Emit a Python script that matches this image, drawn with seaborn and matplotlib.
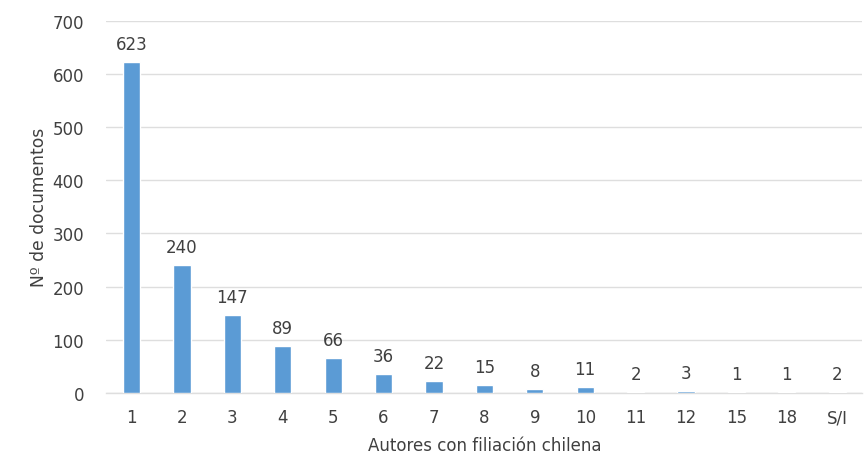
import matplotlib
matplotlib.use("Agg")
import matplotlib.pyplot as plt
import seaborn as sns
import pandas as pd

categorias = ["1", "2", "3", "4", "5", "6", "7", "8", "9", "10", "11", "12", "15", "18", "S/I"]
documentos = [623, 240, 147, 89, 66, 36, 22, 15, 8, 11, 2, 3, 1, 1, 2]
y_ticks = [0, 100, 200, 300, 400, 500, 600, 700]

df = pd.DataFrame({"autores": categorias, "docs": documentos})

sns.set_theme(style="white")
plt.rcParams["font.family"] = ["DejaVu Sans"]

texto = "#404040"
grid = "#DEDEDE"
azul = "#5B9BD5"

fig = plt.figure(figsize=(8.65, 4.64), dpi=100)
ax = fig.add_axes([0.123, 0.151, 0.874, 0.802])

sns.barplot(data=df, x="autores", y="docs", color=azul, width=0.34,
            saturation=1, ax=ax, zorder=3)

ax.set_ylim(0, 700)
ax.set_yticks(y_ticks)
ax.set_yticklabels([str(t) for t in y_ticks])
ax.yaxis.grid(True, color=grid, linewidth=1, zorder=0)
ax.set_axisbelow(True)
for s in ["top", "right", "left"]:
    ax.spines[s].set_visible(False)
ax.spines["bottom"].set_color(grid)
ax.spines["bottom"].set_linewidth(1)
ax.tick_params(axis="both", length=0, labelsize=12, colors=texto)
ax.tick_params(axis="x", pad=11)
ax.tick_params(axis="y", pad=16)

for i, v in enumerate(documentos):
    ax.text(i, v + 17, str(v), ha="center", va="bottom", fontsize=12, color=texto)

ax.set_xlabel("Autores con filiación chilena", fontsize=12, color=texto, labelpad=7)
ax.set_ylabel("Nº de documentos", fontsize=12.3, color=texto, labelpad=3)

fig.savefig("out.png", dpi=100)
